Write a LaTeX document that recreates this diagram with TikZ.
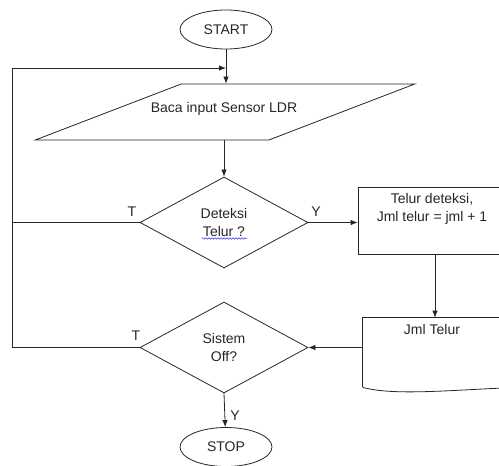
\documentclass[tikz,border=0pt]{standalone}
\usepackage{fontspec}
\setmainfont{Liberation Sans}
\usetikzlibrary{shapes.geometric,arrows.meta,positioning,decorations.pathmorphing}

\begin{document}
\begin{tikzpicture}[>={Latex[length=7pt,width=5.5pt]}, x=1pt, y=-1pt, line width=0.8pt, color=black!85,
    font=\fontsize{14}{18}\selectfont,
    terminal/.style={ellipse, draw, minimum width=92pt, minimum height=39pt, inner sep=0pt},
    masukan/.style={trapezium, trapezium left angle=31, trapezium right angle=149,
      trapezium stretches=true, draw, minimum width=380pt, minimum height=56pt},
    keputusan/.style={diamond, draw, minimum width=168pt, minimum height=91pt,
      inner sep=0pt, align=center},
    proses/.style={rectangle, draw, minimum width=148pt, minimum height=67pt}]
  \useasboundingbox (0,0) rectangle (499,466);
  \clip (0,0) rectangle (499,466);
  % simbol alur
  \node[terminal] (start) at (226,29.5) {START};
  \node[masukan] (baca) at (225,112) {};
  \node (bacateks) at (224,109) {Baca input Sensor LDR};
  \node[keputusan] (deteksi) at (224,222.5) {Deteksi\\Telur ?};
  \node[proses] (hitung) at (432,220.5) {};
  \node[align=center, below=3pt] (hitungteks) at (hitung.north) {Telur deteksi,\\Jml telur = jml + 1};
  \node[minimum width=154pt, minimum height=69pt] (dok) at (440,352.5) {};
  \draw (dok.south west) -- (dok.north west) -- (dok.north east);
  \draw (dok.south west) .. controls (395,396) and (450,390) .. (dok.south east);
  \node[below=3pt] (dokteks) at (dok.north -| hitung) {Jml Telur};
  \node[keputusan] (sistem) at (224,347.5) {Sistem\\Off?};
  \node[terminal] (stop) at (226,447) {STOP};
  % garis penghubung
  \coordinate (kiri) at (12,0);
  \coordinate (masuk) at (226,68);
  \draw[->] (start) -- (baca.north -| start);
  \draw[->] (baca.south -| deteksi) -- (deteksi);
  \draw[->] (deteksi.east) -- (hitung.west |- deteksi.east);
  \draw[->] (hitung.south -| 435,0) -- (dok.north -| 435,0);
  \draw[->] (dok.west |- sistem.east) -- (sistem.east);
  \draw[->] (sistem.west) -- (sistem.west -| kiri) |- (masuk);
  \draw (deteksi.west) -- (deteksi.west -| kiri);
  \draw[->] (sistem.south) -- (stop);
  % label cabang
  \node (tdeteksi) at (132,212) {T};
  \node (ydeteksi) at (316,212) {Y};
  \node (tsistem) at (136,336) {T};
  \node (ysistem) at (235,416) {Y};
  \draw[blue!80, line width=0.5pt, decorate, decoration={snake, amplitude=0.8pt, segment length=3pt}]
    (202,238.5) -- (247,238.5);
\end{tikzpicture}
\end{document}
